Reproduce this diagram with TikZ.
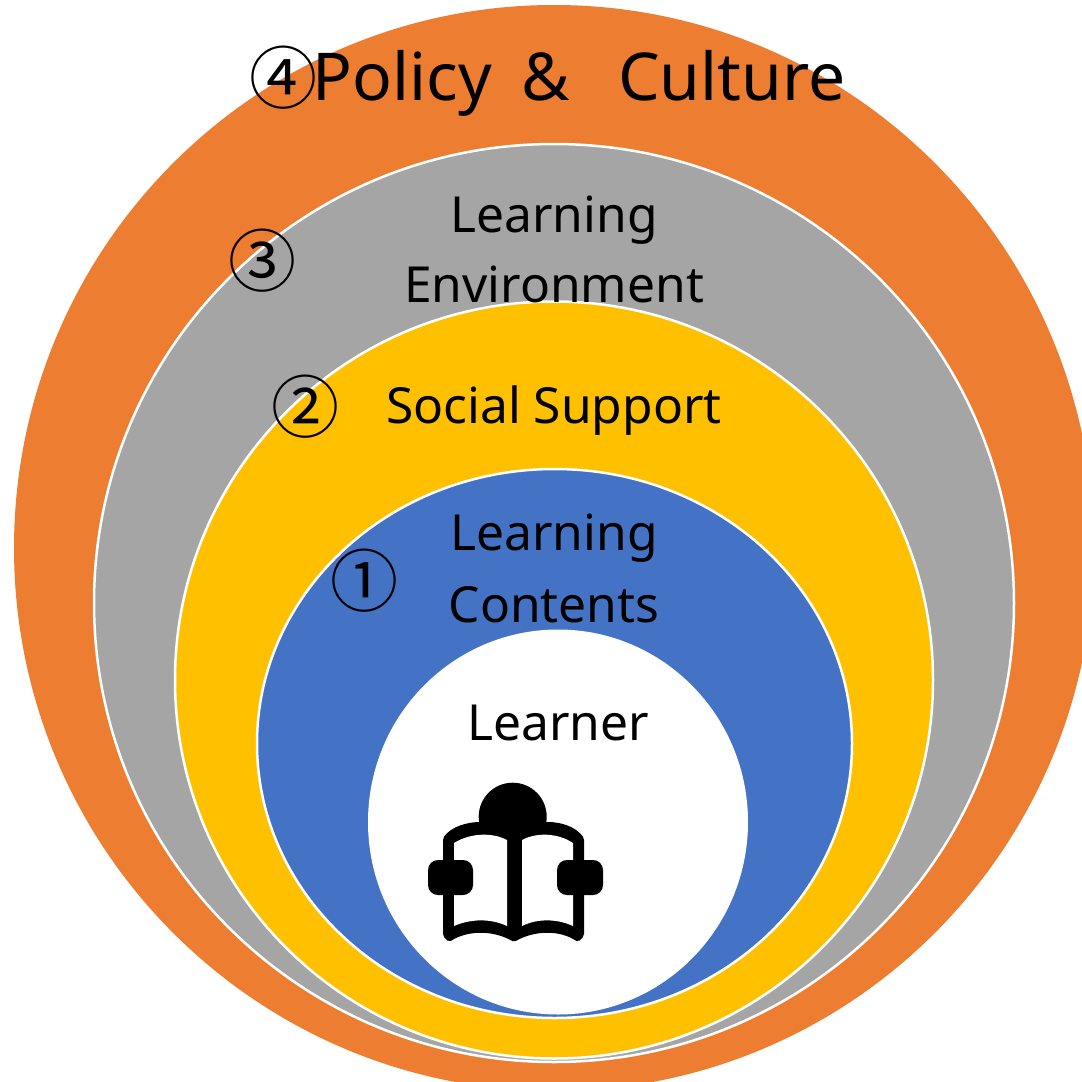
\documentclass[tikz,border=0pt]{standalone}
\usepackage{fontspec}
\setmainfont{Noto Sans}
\newfontfamily\cjk{Noto Sans CJK JP}
\usetikzlibrary{shapes}
\definecolor{orangeC}{HTML}{ED7D31}
\definecolor{grayC}{HTML}{A5A5A5}
\definecolor{goldC}{HTML}{FFC000}
\definecolor{blueC}{HTML}{4472C4}
\tikzstyle{ring} = [ellipse, draw=white, line width=2.5pt, inner sep=0pt]
\tikzstyle{lab} = [anchor=base, inner sep=0pt, font=\fontsize{49.7}{49.7}\selectfont]
\tikzstyle{num} = [inner sep=0pt, font=\cjk\fontsize{68}{68}\selectfont]
\tikzstyle{ink} = [fill=black, draw=none]

\begin{document}
\begin{tikzpicture}[x=1pt,y=-1pt]
  \useasboundingbox (0,0) rectangle (1082,1082);
  \clip (0,0) rectangle (1082,1082);

  \node[ring,draw=none,fill=orangeC,minimum width=1080pt,minimum height=1086pt] (policy) at (554,548) {};
  \node[ring,fill=grayC,minimum width=920pt,minimum height=918pt] (environment) at (554,603) {};
  \node[ring,fill=goldC,minimum width=758pt,minimum height=757pt] (social) at (554,680) {};
  \node[ring,fill=blueC,minimum width=595pt,minimum height=549pt] (contents) at (554.5,743.5) {};
  \node[ellipse,fill=white,inner sep=0pt,minimum width=380pt,minimum height=385pt] (learner) at (558,822) {};

  \node[lab,font=\fontsize{66}{66}\selectfont] (policytxt) at (579,100) {Policy\hspace{30pt}\&\hspace{48pt}Culture};
  \node[lab] (envtxt1) at (554,232) {Learning};
  \node[lab] (envtxt2) at (554,302) {Environment};
  \node[lab] (socialtxt) at (554,423) {Social Support};
  \node[lab] (conttxt1) at (554,550) {Learning};
  \node[lab] (conttxt2) at (554,622) {Contents};
  \node[lab] (learnertxt) at (558,740) {Learner};

  \node[num] (n4) at (283,78) {④};
  \node[num] (n3) at (262,261) {③};
  \node[num] (n2) at (305,407) {②};
  \node[num] (n1) at (364,581) {①};

  % reader icon
  \fill[ink] (512.7,816.7) circle (34);
  \path[ink,rounded corners=2pt] (443,838) .. controls (452,826) and (468,822) .. (482,822)
    -- (546,822) .. controls (560,822) and (575,826) .. (584,838)
    -- (584,936) -- (578,942) .. controls (560,930) and (535,930) .. (514,942)
    .. controls (493,930) and (468,930) .. (449,942) -- (443,936) -- cycle;
  \fill[white] (454,843) .. controls (470,833) and (492,832) .. (507,840) -- (507,926)
    .. controls (490,918) and (470,919) .. (454,926) -- cycle;
  \fill[white] (522,840) .. controls (537,832) and (558,833) .. (573,843) -- (573,926)
    .. controls (558,919) and (538,918) .. (522,926) -- cycle;
  \fill[ink,rounded corners=10pt] (428,860) rectangle (473,895);
  \fill[ink,rounded corners=10pt] (557,860) rectangle (603,895);
\end{tikzpicture}
\end{document}
